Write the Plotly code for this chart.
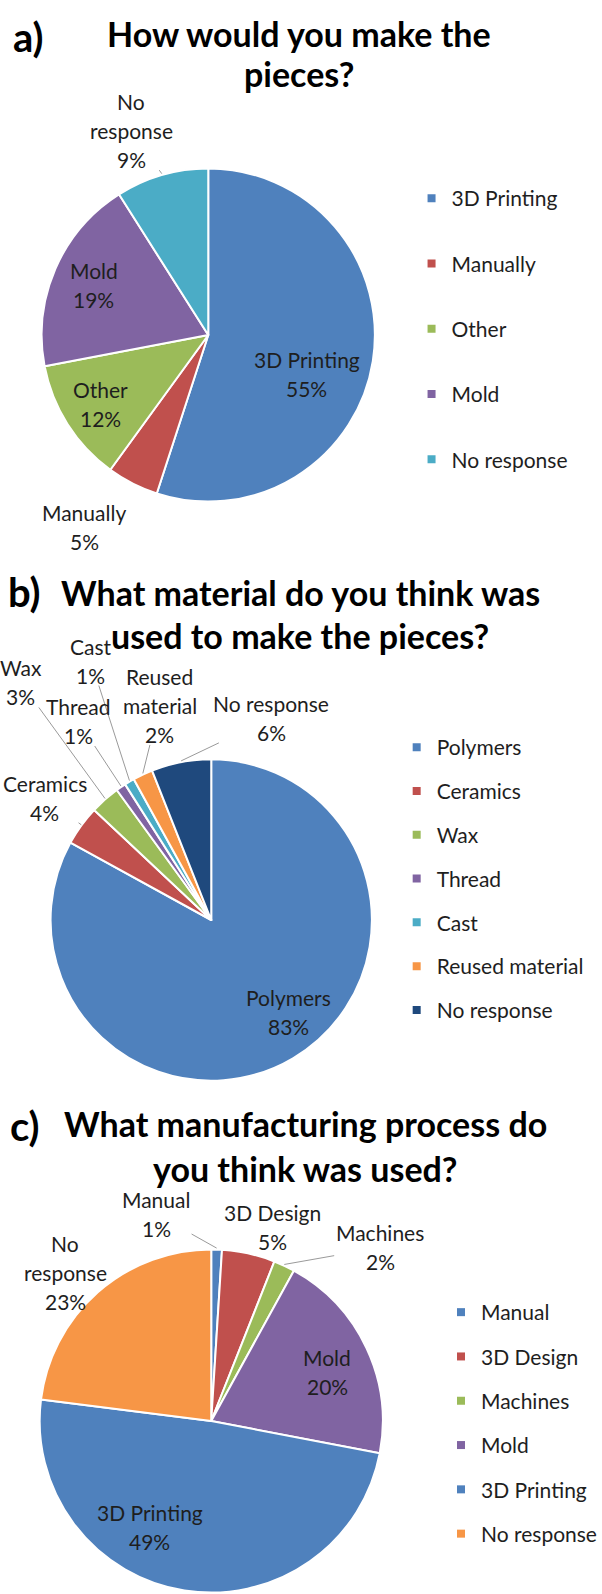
import math
import plotly.graph_objects as go

W, H = 602, 1594

# ---------------- data ----------------
a_labels = ["3D Printing", "Manually", "Other", "Mold", "No response"]
a_values = [55, 5, 12, 19, 9]

b_labels = ["Polymers", "Ceramics", "Wax", "Thread", "Cast", "Reused material", "No response"]
b_values = [83, 4, 3, 1, 1, 2, 6]

c_labels = ["Manual", "3D Design", "Machines", "Mold", "3D Printing", "No response"]
c_values = [1, 5, 2, 20, 49, 23]

# how each slice label is broken into lines on the chart
a_text = ["3D Printing", "Manually", "Other", "Mold", "No|response"]
b_text = ["Polymers", "Ceramics", "Wax", "Thread", "Cast", "Reused|material", "No response"]
c_text = ["Manual", "3D Design", "Machines", "Mold", "3D Printing", "No|response"]

titles = [["How would you make the", "pieces?"],
          ["What material do you think was", "used to make the pieces?"],
          ["What manufacturing process do", "you think was used?"]]
tags = ["a)", "b)", "c)"]

# ---------------- styles ----------------
BLUE, RED, GREEN, PURPLE = "#4F81BD", "#C0504D", "#9BBB59", "#8064A2"
CYAN, ORANGE, NAVY = "#4BACC6", "#F79646", "#1F497D"
a_colors = [BLUE, RED, GREEN, PURPLE, CYAN]
b_colors = [BLUE, RED, GREEN, PURPLE, CYAN, ORANGE, NAVY]
c_colors = [BLUE, RED, GREEN, PURPLE, BLUE, ORANGE]

FONT = "Lato, 'Open Sans', sans-serif"
TXT = "#1e1e1e"
LBL_SIZE = 21
LEG_SIZE = 21
LINE_S = 29

# pie geometry (centre x, centre y, radius) in px
geom = [(210, 335, 168), (213, 920, 162), (213, 1421, 173)]

# label placement per slice: (radial factor, dx, dy, leader line)
a_lp = [(0.60, 0, 23, False), (1.0, -49, 42, False), (0.766, 0, 0, False),
        (0.75, 0, 0, False), (1.0, -31, -43, True)]
b_lp = [(0.74, 17, -11, False), (1.0, -37, -27, True), (1.0, -85, -116, True),
        (1.0, -43, -65, True), (1.0, -39, -120, True), (1.0, 17, -68, True),
        (1.0, 91, -43, True)]
c_lp = [(1.0, -61, -34, True), (1.0, 24, -25, False), (1.0, 97, -17, True),
        (0.727, 3, 5, False), (0.70, -43, -14, False), (1.2, -10, 7, False)]

# title placement: (tag x, tag y, line centre x, line1 y, line2 y)
title_pos = [(29, 37, 302, 33, 74), (25, 592, 303, 592, 635), (25, 1126, 308, 1123, 1168)]

# legend placement: (x of legend left, y of top, group gap)
leg_pos = [(415, 178, 35), (400, 727, 13.5), (445, 1292, 14)]

panels = [
    (a_labels, a_values, a_text, a_colors, a_lp),
    (b_labels, b_values, b_text, b_colors, b_lp),
    (c_labels, c_values, c_text, c_colors, c_lp),
]


def px2paper(x, y):
    return x / W, 1 - y / H


fig = go.Figure()
annotations = []
shapes = []
legend_names = ["legend", "legend2", "legend3"]

for k, (labels, values, texts, colors, lps) in enumerate(panels):
    cx, cy, r = geom[k]
    dom_x = [max(0, (cx - r) / W), min(1, (cx + r) / W)]
    dom_y = [max(0, 1 - (cy + r) / H), min(1, 1 - (cy - r) / H)]
    fig.add_trace(go.Pie(
        labels=labels, values=values, sort=False, direction="clockwise",
        rotation=0, textinfo="none", hoverinfo="label+percent",
        marker=dict(colors=colors, line=dict(color="white", width=2)),
        domain=dict(x=dom_x, y=dom_y), showlegend=False,
    ))

    total = float(sum(values))
    cum = 0.0
    for i, v in enumerate(values):
        mid = (cum + v / 2.0) / total * 2 * math.pi
        cum += v
        rf, dx, dy, lead = lps[i]
        ax_ = cx + rf * r * math.sin(mid)
        ay_ = cy - rf * r * math.cos(mid)
        tx, ty = ax_ + dx, ay_ + dy
        pct = round(v / total * 100)
        lines = texts[i].split("|") + [f"{pct}%"]
        n = len(lines)
        for j, ln in enumerate(lines):
            yy = ty + (j - (n - 1) / 2.0) * LINE_S
            xp, yp = px2paper(tx, yy)
            annotations.append(dict(
                x=xp, y=yp, xref="paper", yref="paper", text=ln, showarrow=False,
                xanchor="center", yanchor="middle",
                font=dict(family=FONT, size=LBL_SIZE, color=TXT)))
        if lead:
            ex = cx + r * math.sin(mid)
            ey = cy - r * math.cos(mid)
            hw = max(len(s) for s in lines) * LBL_SIZE * 0.26 + 3
            hh = ((n - 1) * LINE_S + LBL_SIZE) / 2.0
            ddx, ddy = ex - tx, ey - ty
            t = min(hw / abs(ddx) if ddx else 1e9, hh / abs(ddy) if ddy else 1e9)
            if t < 1:
                sx, sy = tx + ddx * t, ty + ddy * t
                x0, y0 = px2paper(sx, sy)
                x1, y1 = px2paper(ex, ey)
                shapes.append(dict(type="line", xref="paper", yref="paper",
                                   x0=x0, y0=y0, x1=x1, y1=y1,
                                   line=dict(color="#9a9a9a", width=1)))

    # legend entries (one group per entry so the spacing can be controlled)
    for i, (lab, col) in enumerate(zip(labels, colors)):
        fig.add_trace(go.Scatter(
            x=[None], y=[None], mode="markers", name=lab,
            marker=dict(symbol="square", size=8, color=col),
            legend=legend_names[k], legendgroup=f"p{k}_{i}", showlegend=True,
            hoverinfo="skip"))

    # titles
    tgx, tgy, lcx, l1y, l2y = title_pos[k]
    xp, yp = px2paper(tgx, tgy)
    annotations.append(dict(x=xp, y=yp, xref="paper", yref="paper",
                            text=f"<b>{tags[k]}</b>", showarrow=False,
                            xanchor="center", yanchor="middle",
                            font=dict(family=FONT, size=40, color="#000")))
    for ln, yy in zip(titles[k], (l1y, l2y)):
        xp, yp = px2paper(lcx, yy)
        annotations.append(dict(x=xp, y=yp, xref="paper", yref="paper",
                                text=f"<b>{ln}</b>", showarrow=False,
                                xanchor="center", yanchor="middle",
                                font=dict(family=FONT, size=34, color="#000")))

legends = {}
for k, name in enumerate(legend_names):
    lx, ly, gap = leg_pos[k]
    xp, yp = px2paper(lx, ly)
    legends[name] = dict(x=xp, y=yp, xanchor="left", yanchor="top",
                         xref="paper", yref="paper",
                         tracegroupgap=gap, itemwidth=30,
                         bgcolor="rgba(0,0,0,0)",
                         font=dict(family=FONT, size=LEG_SIZE, color=TXT))

fig.update_layout(
    width=W, height=H,
    margin=dict(l=0, r=0, t=0, b=0),
    paper_bgcolor="white", plot_bgcolor="white",
    xaxis=dict(visible=False), yaxis=dict(visible=False),
    annotations=annotations, shapes=shapes,
    **legends,
)

fig.write_html("out.html")
